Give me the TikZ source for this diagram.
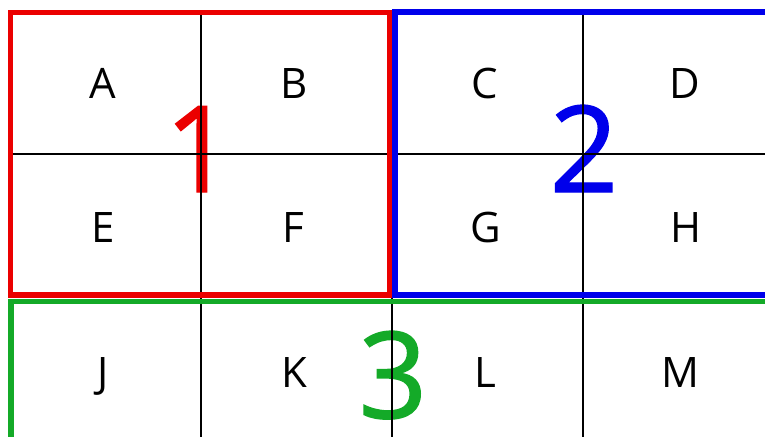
\documentclass[tikz,border=0pt]{standalone}
\usepackage{fontspec}
\setmainfont{Open Sans}
\IfFontExistsTF{Open Sans SemiBold}
  {\newfontfamily\zonefont{Open Sans SemiBold}}
  {\newfontfamily\zonefont[FakeBold=1.2]{Open Sans}}

\definecolor{zonered}{RGB}{235,0,0}
\definecolor{zoneblue}{RGB}{0,0,235}
\definecolor{zonegreen}{RGB}{20,170,40}

\tikzset{
  cell/.style={inner sep=0pt, anchor=base, font=\fontsize{21}{25}\selectfont},
  bignum/.style={inner sep=0pt, anchor=base, font=\zonefont\fontsize{60}{70}\selectfont},
  zone/.style={line width=2.6pt}
}

\begin{document}
\begin{tikzpicture}[x=0.5pt,y=-0.5pt]
  \useasboundingbox (0,0) rectangle (765,436);
  \clip (0,0) rectangle (765,436);
  % zone numbers, under the grid
  \node[bignum, zonered] (zoneA) at (199,192) {1};
  \node[bignum, zoneblue] (zoneB) at (584,192) {2};
  \node[bignum, zonegreen] (zoneC) at (393,418) {3};
  % grid
  \foreach \x in {201,392,583}
    \draw[line width=1pt] (\x,12) -- (\x,440);
  \foreach \y in {154,297}
    \draw[line width=1pt] (10,\y) -- (775,\y);
  % letters in the cells
  \foreach \name/\x/\y in {A/103/98, B/294/98, C/485/98, D/685/98,
                           E/103/242, F/293/242, G/486/242, H/686/242,
                           J/103/387, K/294/387, L/485/387, M/680/387}
    \node[cell] (cell\name) at (\x,\y) {\name};
  % the three zones
  \draw[zone, zonered] (10.5,12.5) rectangle (389.5,295);
  \draw[zone, zoneblue] (395,12) rectangle (790,295);
  \draw[zone, zonegreen] (11,301.5) rectangle (790,460);
\end{tikzpicture}
\end{document}
